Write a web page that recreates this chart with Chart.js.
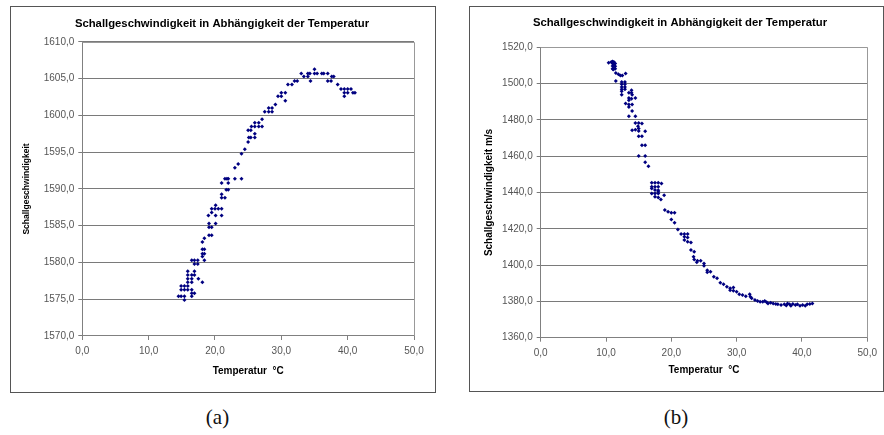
<!DOCTYPE html>
<html>
<head>
<meta charset="utf-8">
<script src="https://cdn.jsdelivr.net/npm/chart.js@4.4.0/dist/chart.umd.min.js"></script>
<style>
  body { margin: 0; background: #fff; width: 884px; height: 435px; position: relative; overflow: hidden; }
  .frame { position: absolute; border: 1px solid #555; background: #fff; }
  canvas { position: absolute; }
  .cap { position: absolute; text-align: center; font-family: "Liberation Serif", "DejaVu Serif", serif; font-size: 21px; line-height: 24px; color: #111; }
</style>
</head>
<body>
<div class="frame" style="left:10px; top:6px; width:424px; height:385px;"></div>
<div class="frame" style="left:469px; top:6px; width:413px; height:384px;"></div>
<canvas id="chartA" width="425" height="386" style="left:10px; top:6px;"></canvas>
<canvas id="chartB" width="414" height="385" style="left:469px; top:6px;"></canvas>
<div class="cap" style="left:10px; top:405px; width:415px;">(a)</div>
<div class="cap" style="left:469px; top:405px; width:414px;">(b)</div>

<script>
// (a) temperature in °C and speed of sound
const tempA = [
  35.0,
  33.0, 34.0, 34.3, 35.0, 35.4, 36.1, 36.4, 37.0,
  33.4, 34.0, 37.6, 37.9,
  32.0, 32.4, 34.4, 37.0, 37.5,
  31.0, 31.6, 38.5,
  39.0, 39.5, 40.0, 40.5,
  30.0, 30.6, 39.5, 40.0, 40.8, 41.1,
  29.5, 30.0, 39.5,
  30.6,
  29.1,
  28.1, 28.6,
  27.5, 28.1, 28.6,
  27.1,
  26.0, 26.6,
  25.5, 26.0, 26.6, 27.1,
  25.0, 25.4,
  26.0,
  25.1, 25.4, 26.0,
  25.0,
  24.5,
  24.0,
  23.5,
  23.0,
  21.5, 21.8, 22.0, 23.0, 24.0,
  21.0, 22.0,
  21.7, 22.0,
  21.0,
  21.0, 21.5,
  20.1,
  19.5, 20.0, 20.5, 21.0,
  19.5,
  19.0, 20.1, 21.0,
  19.1, 20.1,
  19.1, 19.5,
  19.1, 19.5,
  18.4,
  18.1,
  18.1, 18.4,
  18.1, 18.4,
  18.1,
  16.5, 16.9, 17.4, 18.4,
  16.9, 17.4,
  15.9, 16.9,
  15.9, 16.5, 16.9,
  15.9, 16.5, 17.5,
  15.9, 16.5, 18.1,
  14.9, 15.4, 15.9,
  14.9, 15.4, 15.9, 16.5,
  16.5, 16.9,
  14.5, 14.9, 15.4, 16.5,
  15.4
];
const speedA = [
  1606.3,
  1605.7, 1605.7, 1605.7, 1605.7, 1605.7, 1605.7, 1605.7, 1605.7,
  1605.3, 1605.3, 1605.3, 1605.3,
  1604.7, 1604.7, 1604.7, 1604.7, 1604.7,
  1604.2, 1604.2, 1604.2,
  1603.6, 1603.6, 1603.6, 1603.6,
  1603.1, 1603.1, 1603.1, 1603.1, 1603.1, 1603.1,
  1602.6, 1602.6, 1602.6,
  1602.0,
  1601.5,
  1601.0, 1601.0,
  1600.5, 1600.5, 1600.5,
  1599.5,
  1599.0, 1599.0,
  1598.5, 1598.5, 1598.5, 1598.5,
  1598.0, 1598.0,
  1597.5,
  1597.0, 1597.0, 1597.0,
  1596.4,
  1595.4,
  1594.8,
  1593.4,
  1592.9,
  1591.4, 1591.4, 1591.4, 1591.4, 1591.4,
  1590.8, 1590.8,
  1589.9, 1589.9,
  1589.3,
  1588.8, 1588.8,
  1587.8,
  1587.3, 1587.3, 1587.3, 1587.3,
  1586.8,
  1586.4, 1586.4, 1586.4,
  1585.3, 1585.3,
  1584.8, 1584.8,
  1583.7, 1583.7,
  1583.3,
  1582.8,
  1581.8, 1581.8,
  1581.2, 1581.2,
  1580.8,
  1580.3, 1580.3, 1580.3, 1580.3,
  1579.8, 1579.8,
  1578.8, 1578.8,
  1578.3, 1578.3, 1578.3,
  1577.8, 1577.8, 1577.8,
  1577.3, 1577.3, 1577.3,
  1576.8, 1576.8, 1576.8,
  1576.3, 1576.3, 1576.3, 1576.3,
  1575.8, 1575.8,
  1575.4, 1575.4, 1575.4, 1575.4,
  1574.9
];

// (b) temperature in °C and speed of sound in m/s
const tempB = [
  10.4, 10.8, 11.0, 11.0, 11.0, 11.0, 11.2, 11.2, 11.2, 11.2,
  11.4, 11.4, 11.4, 11.1, 11.5, 11.9, 12.2, 12.5, 13.0, 11.5,
  12.4, 12.4, 12.4, 12.4, 12.4, 12.4, 12.9, 12.9, 12.9, 12.9,
  13.5, 13.9, 13.9, 14.0, 13.5, 13.5, 13.9, 14.5, 13.0, 13.5,
  14.0, 13.5, 14.0, 13.5, 14.5, 14.5, 15.0, 15.5, 14.9, 15.0,
  14.0, 14.5, 15.0, 16.0, 15.0, 15.5, 15.5, 16.0, 15.0, 16.0,
  16.0, 16.5, 17.0, 17.5, 18.0, 18.5, 17.0, 17.5, 18.0, 17.0,
  17.5, 18.0, 18.0, 17.0, 17.5, 18.0, 18.9, 17.5, 18.0, 18.4,
  19.0, 19.5, 20.0, 20.5, 20.0, 20.5, 21.0, 21.5, 22.0, 22.5,
  22.0, 22.5, 22.0, 22.5, 23.0, 23.0, 23.5, 23.4, 23.5, 24.0,
  23.9, 24.5, 25.0, 25.0, 25.5, 25.5, 26.0, 26.5, 27.0, 27.5,
  28.0, 28.5, 29.0, 29.5, 29.0, 29.5, 30.0, 30.4, 30.9, 31.4,
  32.0, 32.1, 32.3, 32.8, 33.2, 33.6, 34.0, 34.3, 34.6, 34.8,
  35.2, 35.6, 36.0, 36.3, 36.8, 37.3, 37.6, 37.8, 38.1, 38.3,
  38.6, 39.0, 39.3, 39.7, 40.1, 40.5, 40.8, 41.2, 41.6
];
const speedB = [
  1511.5, 1511.9, 1512.2, 1511.0, 1509.7, 1508.2, 1511.9, 1510.6, 1509.5, 1508.2,
  1511.0, 1509.5, 1508.2, 1507.7, 1505.8, 1505.1, 1504.5, 1504.5, 1505.5, 1501.4,
  1500.9, 1499.6, 1498.1, 1496.8, 1495.7, 1493.9, 1500.9, 1499.6, 1498.1, 1496.8,
  1495.0, 1496.3, 1495.0, 1493.9, 1492.1, 1490.8, 1491.7, 1492.1, 1489.0, 1488.4,
  1488.4, 1487.1, 1484.9, 1482.0, 1482.0, 1478.3, 1478.3, 1478.0, 1476.5, 1475.2,
  1474.3, 1474.6, 1473.9, 1473.7, 1471.0, 1471.0, 1466.0, 1466.0, 1460.1, 1460.1,
  1456.7, 1454.4, 1445.3, 1445.3, 1445.3, 1445.0, 1443.1, 1443.1, 1443.1, 1442.2,
  1441.3, 1441.2, 1440.4, 1439.4, 1439.5, 1439.5, 1438.5, 1437.6, 1437.3, 1436.1,
  1430.3, 1429.4, 1428.8, 1428.8, 1425.1, 1423.3, 1419.6, 1417.1, 1417.1, 1417.1,
  1415.6, 1415.2, 1413.8, 1412.9, 1412.5, 1408.3, 1407.3, 1404.6, 1403.1, 1402.4,
  1401.6, 1402.4, 1400.9, 1399.6, 1397.2, 1396.0, 1396.3, 1393.6, 1392.7, 1390.3,
  1389.4, 1388.1, 1387.2, 1387.7, 1386.2, 1385.9, 1385.3, 1384.0, 1383.5, 1382.9,
  1384.0, 1382.6, 1381.7, 1380.7, 1380.2, 1379.8, 1379.8, 1380.2, 1379.5, 1378.9,
  1379.3, 1378.9, 1378.5, 1378.4, 1378.0, 1378.4, 1377.8, 1378.9, 1378.4, 1377.6,
  1378.5, 1378.0, 1378.4, 1377.6, 1378.0, 1377.6, 1378.4, 1378.5, 1378.9
];

const titleText = "Schallgeschwindigkeit in Abhängigkeit der Temperatur";
const xTitle = "Temperatur  °C";
const yTitleA = "Schallgeschwindigkeit";
const yTitleB = "Schallgeschwindigkeit m/s";

Chart.defaults.font.family = "'Liberation Sans', Arial, sans-serif";
Chart.defaults.color = "#444";

// grey line on top and right of the plot area (Excel style)
const plotFrame = {
  id: "plotFrame",
  beforeDatasetsDraw(chart) {
    const { ctx, chartArea: a } = chart;
    ctx.save();
    ctx.strokeStyle = "#999";
    ctx.lineWidth = 1;
    ctx.beginPath();
    ctx.moveTo(a.left, Math.round(a.top) + 0.5);
    ctx.lineTo(Math.round(a.right) + 0.5, Math.round(a.top) + 0.5);
    ctx.lineTo(Math.round(a.right) + 0.5, a.bottom);
    ctx.stroke();
    ctx.restore();
  }
};

const comma = v => v.toFixed(1).replace(".", ",");

function makeChart(id, temps, speeds, cfg) {
  const points = temps.map((t, i) => ({ x: t, y: speeds[i] }));
  return new Chart(document.getElementById(id), {
    type: "scatter",
    data: {
      datasets: [{
        data: points,
        pointStyle: "rectRot",
        pointRadius: 2,
        borderWidth: 0,
        backgroundColor: "#000080",
        borderColor: "#000080"
      }]
    },
    options: {
      responsive: false,
      animation: false,
      devicePixelRatio: 1,
      layout: { padding: { left: cfg.padLeft, right: cfg.padRight, top: 0, bottom: 0 } },
      plugins: {
        legend: { display: false },
        tooltip: { enabled: false },
        title: {
          display: true,
          text: titleText,
          color: "#000",
          font: { size: 11.3, weight: "bold" },
          padding: { top: cfg.titleTop, bottom: cfg.titleBottom }
        }
      },
      scales: {
        x: {
          type: "linear",
          min: 0, max: 50,
          afterFit: s => { s.height = cfg.xHeight; },
          ticks: { stepSize: 10, padding: cfg.xTickPad, font: { size: 10 }, color: "#555", callback: comma },
          grid: { drawOnChartArea: false, drawTicks: true, tickLength: 4, color: "#808080" },
          border: { color: "#808080" },
          title: { display: true, text: xTitle, color: "#000", font: { size: 10, weight: "bold" }, padding: { top: 0, bottom: 15 } }
        },
        y: {
          type: "linear",
          min: cfg.yMin, max: cfg.yMax,
          afterFit: s => { s.width = cfg.yWidth; },
          ticks: { stepSize: cfg.yStep, padding: 4, font: { size: 10 }, color: "#555", callback: comma },
          grid: { drawTicks: true, tickLength: 4, color: "#7a7a7a" },
          border: { color: "#808080" },
          title: { display: true, text: cfg.yTitle, color: "#000", font: { size: cfg.yTitleSize, weight: "bold" }, padding: { top: cfg.yTitlePad, bottom: 0 } }
        }
      }
    },
    plugins: [plotFrame]
  });
}

makeChart("chartA", tempA, speedA, {
  padLeft: 20, padRight: 21, titleTop: 11.2, titleBottom: 11.2,
  xHeight: 56, xTickPad: 5, yWidth: 52.3,
  yMin: 1570, yMax: 1610, yStep: 5,
  yTitle: yTitleA, yTitleSize: 8.5, yTitlePad: -8.1
});

makeChart("chartB", tempB, speedB, {
  padLeft: 19, padRight: 11, titleTop: 10.2, titleBottom: 17.5,
  xHeight: 53.3, xTickPad: 6, yWidth: 52.7,
  yMin: 1360, yMax: 1520, yStep: 20,
  yTitle: yTitleB, yTitleSize: 10, yTitlePad: -4.3
});
</script>
</body>
</html>
